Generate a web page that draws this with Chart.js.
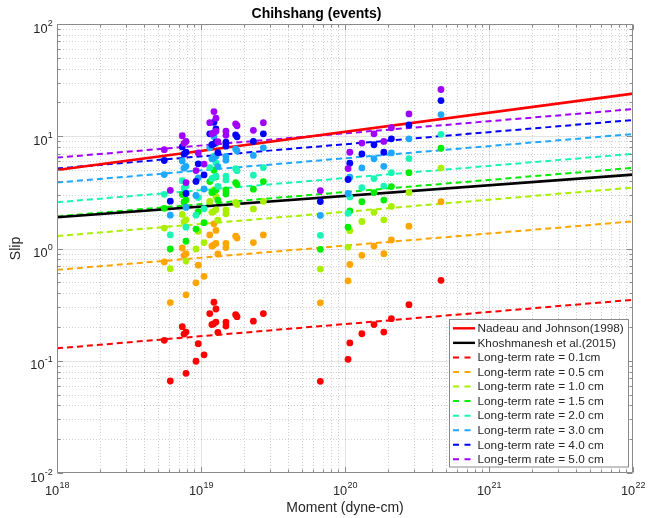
<!DOCTYPE html>
<html>
<head>
<meta charset="utf-8">
<script src="https://cdn.jsdelivr.net/npm/chart.js@4.4.0/dist/chart.umd.min.js"></script>
<style>
html,body{margin:0;padding:0;background:#ffffff;}
#wrap{width:648px;height:518px;position:relative;}
</style>
</head>
<body>
<div id="wrap"><canvas id="c"></canvas></div>
<script>
// ---------------- data ----------------
const moments = [1.23e19, 1.27e19, 1.15e19, 1.74e19, 1.78e19, 2.71e19, 2.31e19, 1.49e19, 1.49e19, 1.27e19,
                 1.22e19, 1.19e19, 1.31e19, 7.41e18, 7.87e18, 7.62e18, 5.56e18, 9.57e18, 1.05e19, 9.23e18,
                 7.87e18, 6.12e18, 4.64e20, 2.78e20, 2.10e20, 1.59e20, 1.86e20, 1.31e20, 1.08e20, 1.05e20,
                 6.74e19];
const slipRate01 = [0.332,0.289,0.263,0.257,0.247,0.263,0.225,0.221,0.204,0.221,0.213,0.210,0.179,0.201,0.180,0.173,0.152,0.142,0.113,0.099,0.0773,0.066,0.521,0.316,0.237,0.210,0.180,0.174,0.144,0.103,0.0656];
const slipRate05 = [1.66,1.45,1.32,1.29,1.24,1.32,1.13,1.11,1.02,1.11,1.07,1.05,0.895,1.01,0.90,0.865,0.76,0.71,0.565,0.495,0.387,0.33,2.61,1.58,1.19,1.05,0.90,0.87,0.72,0.515,0.328];
const slipRate10 = [3.32,2.89,2.63,2.57,2.47,2.63,2.25,2.21,2.04,2.21,2.13,2.10,1.79,2.01,1.80,1.73,1.52,1.42,1.13,0.99,0.773,0.66,5.21,3.16,2.37,2.10,1.80,1.74,1.44,1.03,0.656];
const slipRate15 = [4.98,4.34,3.95,3.86,3.71,3.95,3.38,3.32,3.06,3.32,3.20,3.15,2.69,3.02,2.70,2.60,2.28,2.13,1.70,1.49,1.16,0.99,7.82,4.74,3.56,3.15,2.70,2.61,2.16,1.55,0.984];
const slipRate20 = [6.64,5.78,5.26,5.14,4.94,5.26,4.50,4.42,4.08,4.42,4.26,4.20,3.58,4.02,3.60,3.46,3.04,2.84,2.26,1.98,1.55,1.32,10.4,6.32,4.74,4.20,3.60,3.48,2.88,2.06,1.31];
const slipRate30 = [9.96,8.67,7.89,7.71,7.41,7.89,6.75,6.63,6.12,6.63,6.39,6.30,5.37,6.03,5.40,5.19,4.56,4.26,3.39,2.97,2.32,1.98,15.6,9.48,7.11,6.30,5.40,5.22,4.32,3.09,1.97];
const slipRate40 = [13.3,11.6,10.5,10.3,9.88,10.5,9.00,8.84,8.16,8.84,8.52,8.40,7.16,8.04,7.20,6.92,6.08,5.68,4.52,3.96,3.09,2.64,20.8,12.6,9.48,8.40,7.20,6.96,5.76,4.12,2.62];
const slipRate50 = [16.6,14.5,13.2,12.9,12.4,13.2,11.3,11.1,10.2,11.1,10.7,10.5,8.95,10.1,9.00,8.65,7.60,7.10,5.65,4.95,3.87,3.30,26.1,15.8,11.9,10.5,9.00,8.70,7.20,5.15,3.28];

// straight reference lines: slip at the two ends of the moment axis
const lineMoments   = [1e18, 1e22];
const nadeauJohnson = [5.01, 24.0];
const khoshmanesh   = [1.90, 4.55];
const rateLine01 = [0.129, 0.349];
const rateLine05 = [0.645, 1.745];
const rateLine10 = [1.29, 3.49];
const rateLine15 = [1.935, 5.235];
const rateLine20 = [2.58, 6.98];
const rateLine30 = [3.87, 10.47];
const rateLine40 = [5.16, 13.96];
const rateLine50 = [6.45, 17.45];

const rateLabels = ['Long-term rate = 0.1cm','Long-term rate = 0.5 cm','Long-term rate = 1.0 cm','Long-term rate = 1.5 cm',
                    'Long-term rate = 2.0 cm','Long-term rate = 3.0 cm','Long-term rate = 4.0 cm','Long-term rate = 5.0 cm'];
const modelLabels = ['Nadeau and Johnson(1998)','Khoshmanesh et al.(2015)'];

const xMajorTicks = [1e18, 1e19, 1e20, 1e21, 1e22];
const xTickExponents = ['18','19','20','21','22'];
const yMajorTicks = [1e-2, 1e-1, 1e0, 1e1, 1e2];
const yTickExponents = ['-2','-1','0','1','2'];

const chartTitle = 'Chihshang (events)';
const xTitle = 'Moment (dyne-cm)';
const yTitle = 'Slip';

// ---------------- styling ----------------
const FONT = '"Liberation Sans", Arial, Helvetica, sans-serif';
const rateColors = ['#FF0000','#FFA500','#A8F000','#00EE00','#1AF5B5','#1EA8FF','#0000FF','#A000FF'];
const rateSlips = [slipRate01, slipRate05, slipRate10, slipRate15, slipRate20, slipRate30, slipRate40, slipRate50];
const rateLines = [rateLine01, rateLine05, rateLine10, rateLine15, rateLine20, rateLine30, rateLine40, rateLine50];

function pairs(xs, ys){ return xs.map((x,i)=>({x:x, y:ys[i]})); }

const datasets = [];
// points: purple on top
for (let i = rateSlips.length - 1; i >= 0; i--) {
  datasets.push({
    label: 'Slip (' + rateLabels[i] + ')',
    data: pairs(moments, rateSlips[i]),
    showLine: false,
    pointRadius: 3.4,
    pointHoverRadius: 3.4,
    pointBorderWidth: 0,
    pointBackgroundColor: rateColors[i],
    borderColor: rateColors[i],
    backgroundColor: rateColors[i],
    legendKind: 'none'
  });
}
datasets.push({label: modelLabels[0], data: pairs(lineMoments, nadeauJohnson), showLine:true, borderColor:'#FF0000', borderWidth:2.6, pointRadius:0, legendKind:'solid'});
datasets.push({label: modelLabels[1], data: pairs(lineMoments, khoshmanesh), showLine:true, borderColor:'#000000', borderWidth:2.6, pointRadius:0, legendKind:'solid'});
for (let i = 0; i < rateLines.length; i++) {
  datasets.push({label: rateLabels[i], data: pairs(lineMoments, rateLines[i]), showLine:true, borderColor: rateColors[i],
                 borderWidth:2, borderDash:[6,4], pointRadius:0, legendKind:'dash'});
}

function logTicks(majors){
  const out = [];
  for (let i = 0; i < majors.length; i++) {
    out.push({value: majors[i], major: true});
    if (i < majors.length - 1) for (let k = 2; k <= 9; k++) out.push({value: majors[i]*k, major: false});
  }
  return out;
}

function drawPow(ctx, exp, x, baseY, align){
  ctx.font = '12.8px ' + FONT;
  const w1 = ctx.measureText('10').width;
  ctx.font = '9px ' + FONT;
  const w2 = ctx.measureText(exp).width;
  const total = w1 + w2;
  let sx = align === 'center' ? x - total/2 : x - total;
  ctx.fillStyle = '#262626';
  ctx.textAlign = 'left';
  ctx.textBaseline = 'alphabetic';
  ctx.font = '12.8px ' + FONT;
  ctx.fillText('10', sx, baseY);
  ctx.font = '9px ' + FONT;
  ctx.fillText(exp, sx + w1 + 0.3, baseY - 7);
}

const matlabAxes = {
  id: 'matlabAxes',
  beforeDatasetsDraw(chart){
    const {ctx, chartArea:a, scales:{x, y}} = chart;
    ctx.save();
    ctx.beginPath(); ctx.rect(a.left, a.top, a.right-a.left, a.bottom-a.top); ctx.clip();
    ctx.lineWidth = 1;
    // minor dotted grid
    ctx.strokeStyle = 'rgba(0,0,0,0.18)';
    ctx.setLineDash([1,2]);
    x.ticks.forEach(t => { if (!t.major) { const p = Math.round(x.getPixelForValue(t.value)) + 0.5;
      ctx.beginPath(); ctx.moveTo(p, a.top); ctx.lineTo(p, a.bottom); ctx.stroke(); } });
    y.ticks.forEach(t => { if (!t.major) { const p = Math.round(y.getPixelForValue(t.value)) + 0.5;
      ctx.beginPath(); ctx.moveTo(a.left, p); ctx.lineTo(a.right, p); ctx.stroke(); } });
    // major solid grid
    ctx.setLineDash([]);
    ctx.strokeStyle = 'rgba(0,0,0,0.11)';
    x.ticks.forEach(t => { if (t.major) { const p = Math.round(x.getPixelForValue(t.value)) + 0.5;
      ctx.beginPath(); ctx.moveTo(p, a.top); ctx.lineTo(p, a.bottom); ctx.stroke(); } });
    y.ticks.forEach(t => { if (t.major) { const p = Math.round(y.getPixelForValue(t.value)) + 0.5;
      ctx.beginPath(); ctx.moveTo(a.left, p); ctx.lineTo(a.right, p); ctx.stroke(); } });
    ctx.restore();
  },
  afterDatasetsDraw(chart){
    const {ctx, chartArea:a, scales:{x, y}} = chart;
    ctx.save();
    ctx.strokeStyle = '#8a8a8a';
    ctx.lineWidth = 1;
    ctx.setLineDash([]);
    const L = Math.round(a.left)+0.5, R = Math.round(a.right)-0.5, T = Math.round(a.top)+0.5, B = Math.round(a.bottom)-0.5;
    ctx.beginPath(); ctx.rect(L, T, R-L, B-T); ctx.stroke();
    // tick marks inside on all sides
    x.ticks.forEach(t => {
      const len = t.major ? 5.5 : 3;
      const p = Math.round(x.getPixelForValue(t.value)) + 0.5;
      ctx.beginPath(); ctx.moveTo(p, B); ctx.lineTo(p, B-len); ctx.moveTo(p, T); ctx.lineTo(p, T+len); ctx.stroke();
    });
    y.ticks.forEach(t => {
      const len = t.major ? 5.5 : 3;
      const p = Math.round(y.getPixelForValue(t.value)) + 0.5;
      ctx.beginPath(); ctx.moveTo(L, p); ctx.lineTo(L+len, p); ctx.moveTo(R, p); ctx.lineTo(R-len, p); ctx.stroke();
    });
    // tick labels
    xMajorTicks.forEach((v,i) => drawPow(ctx, xTickExponents[i], x.getPixelForValue(v), a.bottom + 21.5, 'center'));
    yMajorTicks.forEach((v,i) => drawPow(ctx, yTickExponents[i], a.left - 4.5, y.getPixelForValue(v) + 8.5, 'right'));

    // legend box
    const lx = 449.5, ly = 319.5, lw = 179, lh = 147.5;
    ctx.fillStyle = '#ffffff';
    ctx.fillRect(lx, ly, lw, lh);
    ctx.strokeStyle = '#8a8a8a';
    ctx.strokeRect(lx, ly, lw, lh);
    const items = chart.data.datasets.filter(d => d.legendKind !== 'none');
    ctx.font = '11.8px ' + FONT;
    ctx.textBaseline = 'middle';
    ctx.textAlign = 'left';
    items.forEach((d, i) => {
      const cy = 328.3 + i * 14.56;
      ctx.strokeStyle = d.borderColor;
      ctx.lineWidth = d.legendKind === 'solid' ? 2.4 : 2;
      ctx.setLineDash(d.legendKind === 'dash' ? [6,5.5] : []);
      ctx.beginPath(); ctx.moveTo(453, cy); ctx.lineTo(475, cy); ctx.stroke();
      ctx.setLineDash([]);
      ctx.fillStyle = '#262626';
      ctx.fillText(d.label, 477.5, cy + 0.5);
    });
    ctx.restore();
  }
};

Chart.defaults.font.family = FONT;

new Chart(document.getElementById('c'), {
  type: 'scatter',
  data: { datasets: datasets },
  options: {
    responsive: true,
    maintainAspectRatio: false,
    animation: false,
    layout: { padding: { left: 0, right: 15, top: 0, bottom: 0 } },
    plugins: {
      legend: { display: false },
      tooltip: { enabled: false },
      title: { display: true, text: chartTitle, color: '#000000',
               font: { family: FONT, size: 14, weight: 'bold', lineHeight: 1.2 },
               padding: { top: 5.6, bottom: 1.6 } }
    },
    scales: {
      x: {
        type: 'logarithmic', min: 1e18, max: 1e22,
        afterBuildTicks: s => { s.ticks = logTicks(xMajorTicks); },
        ticks: { display: false },
        grid: { display: false, drawTicks: false },
        border: { display: false },
        title: { display: true, text: xTitle, color: '#262626',
                 font: { family: FONT, size: 14, lineHeight: 1.2 }, padding: { top: 27.1, bottom: 1.1 } }
      },
      y: {
        type: 'logarithmic', min: 1e-2, max: 1e2,
        afterBuildTicks: s => { s.ticks = logTicks(yMajorTicks); },
        ticks: { display: false },
        grid: { display: false, drawTicks: false },
        border: { display: false },
        title: { display: true, text: yTitle, color: '#262626',
                 font: { family: FONT, size: 14, lineHeight: 1.2 }, padding: { top: 8.1, bottom: 32.1 } }
      }
    }
  },
  plugins: [matlabAxes]
});
</script>
</body>
</html>
